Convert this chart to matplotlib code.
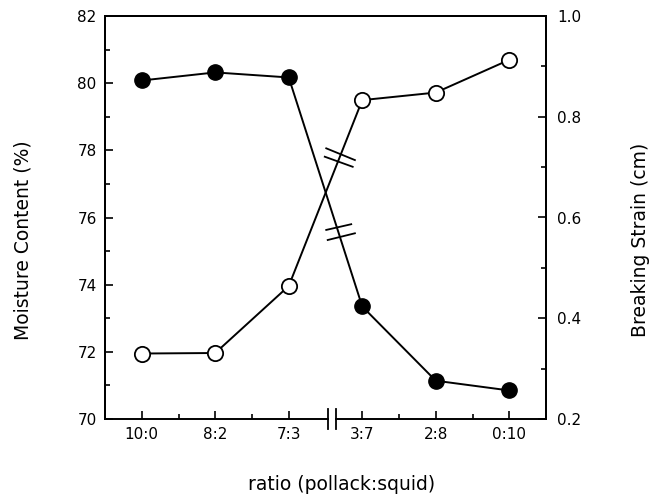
import matplotlib
matplotlib.use('Agg')
import matplotlib.pyplot as plt
from matplotlib.ticker import MultipleLocator, FixedLocator

plt.rcParams['font.family'] = ['DejaVu Sans']

ratios = ['10:0', '8:2', '7:3', '3:7', '2:8', '0:10']
moisture = [80.08, 80.32, 80.17, 73.35, 71.14, 70.85]   # filled, left axis
strain = [0.330, 0.331, 0.464, 0.833, 0.848, 0.913]      # open, right axis

x = list(range(len(ratios)))
brk = (2.53, 2.64)   # axis break between 7:3 and 3:7

fig = plt.figure(figsize=(6.64, 4.98), dpi=100)
ax = fig.add_axes([105 / 664, 79 / 498, 441 / 664, 403 / 498])
ax2 = ax.twinx()

lw = 1.4
ax.plot(x, moisture, color='black', lw=lw, marker='o', ms=11,
        mfc='black', mec='black', zorder=3)
ax2.plot(x, strain, color='black', lw=lw, marker='o', ms=11,
         mfc='white', mec='black', mew=1.3, zorder=3)

ax.set_xlim(-0.5, 5.5)
ax.set_ylim(70, 82)
ax2.set_ylim(0.2, 1.0)

ax.set_xticks(x)
ax.set_xticklabels(ratios)
ax.xaxis.set_minor_locator(FixedLocator([0.5, 1.5, 3.5, 4.5]))
ax.yaxis.set_major_locator(MultipleLocator(2))
ax.yaxis.set_minor_locator(MultipleLocator(1))
ax2.yaxis.set_major_locator(MultipleLocator(0.2))
ax2.yaxis.set_minor_locator(MultipleLocator(0.1))
ax2.yaxis.set_major_formatter(plt.FuncFormatter(lambda v, p: '%.1f' % v))

for a in (ax, ax2):
    a.tick_params(which='major', direction='in', length=6, width=1.2,
                  labelsize=11)
    a.tick_params(which='minor', direction='in', length=3.5, width=1.2)
    for s in a.spines.values():
        s.set_linewidth(1.4)
ax.tick_params(axis='y', pad=6)
ax.tick_params(axis='x', pad=6, top=False)
ax2.tick_params(axis='y', pad=8)

# broken bottom spine
ax.spines['bottom'].set_visible(False)
ax2.spines['bottom'].set_visible(False)
ax.plot([-0.5, brk[0]], [70, 70], color='black', lw=1.4, clip_on=False, zorder=5)
ax.plot([brk[1], 5.5], [70, 70], color='black', lw=1.4, clip_on=False, zorder=5)
for b in brk:
    ax.plot([b, b], [69.7, 70.3], color='black', lw=1.3, clip_on=False, zorder=5)

# break marks on the two lines (left-axis data units)
ax.plot([2.51, 2.90], [78.06, 77.71], color='black', lw=1.3, zorder=4)
ax.plot([2.49, 2.87], [77.81, 77.51], color='black', lw=1.3, zorder=4)
ax.plot([2.51, 2.85], [75.63, 75.80], color='black', lw=1.3, zorder=4)
ax.plot([2.53, 2.90], [75.33, 75.53], color='black', lw=1.3, zorder=4)

fig.text(23 / 664, 1 - 240 / 498, 'Moisture Content (%)', rotation=90,
         ha='center', va='center', fontsize=13.5)
fig.text(640 / 664, 1 - 240 / 498, 'Breaking Strain (cm)', rotation=90,
         ha='center', va='center', fontsize=13.5)
fig.text(342 / 664, 1 - 484 / 498, 'ratio (pollack:squid)',
         ha='center', va='center', fontsize=13.5)

fig.savefig('out.png', dpi=100)
